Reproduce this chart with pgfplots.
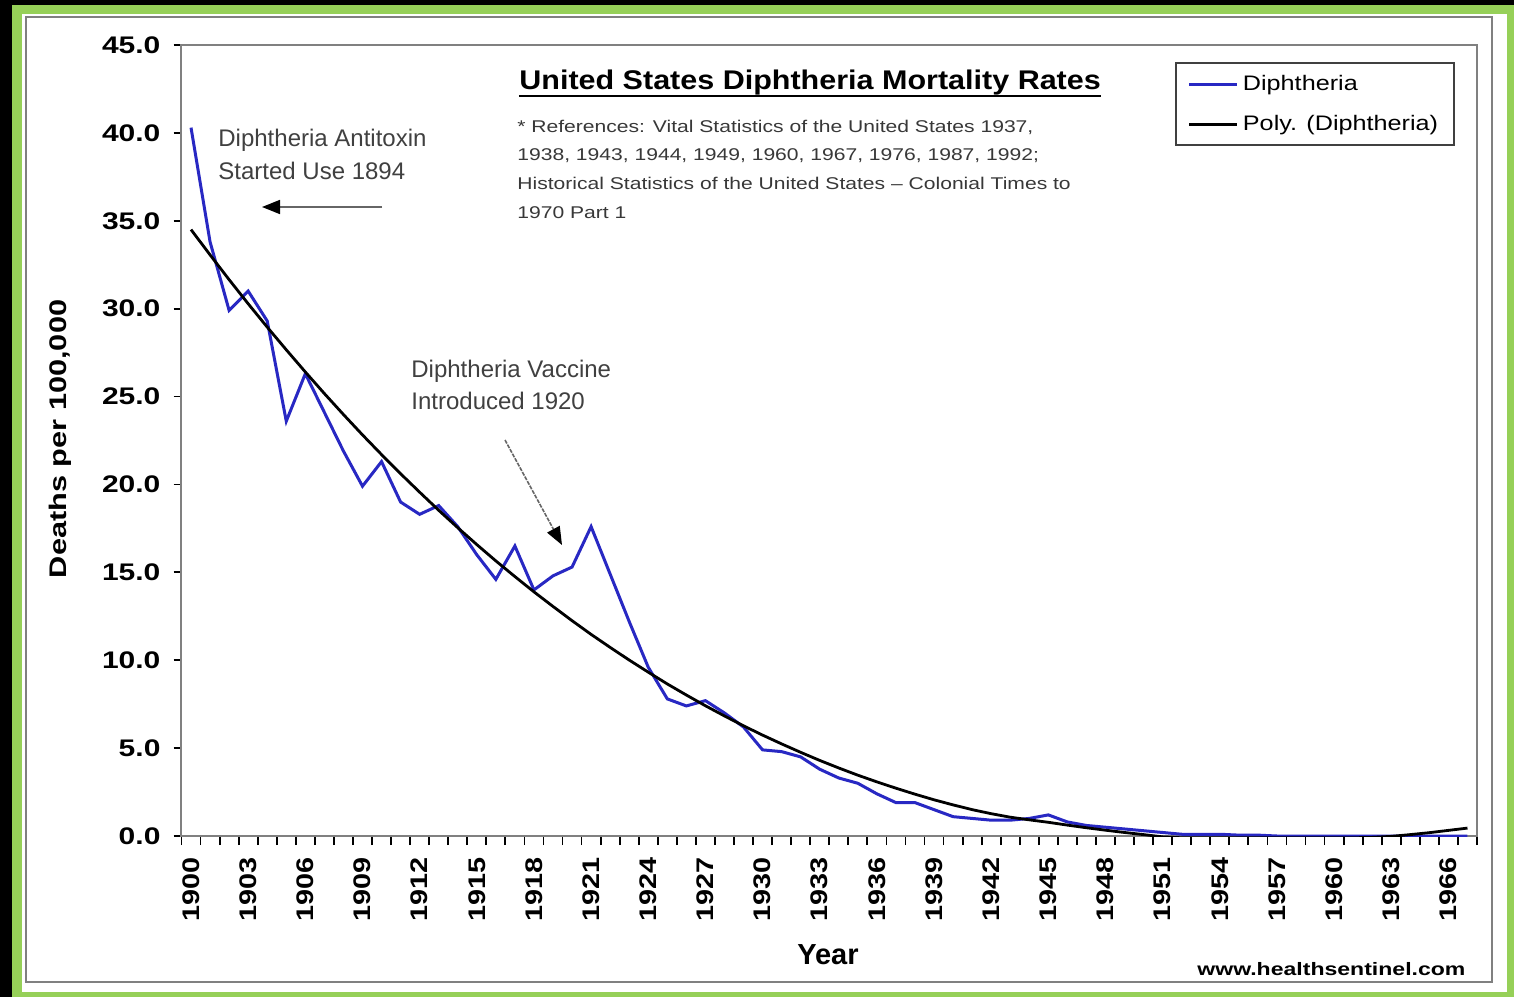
\documentclass[border=0pt]{standalone}
\usepackage{fontspec}
\setmainfont{Liberation Sans}
\usepackage{graphicx}
\usepackage{pgfplots}
\pgfplotsset{compat=1.18}
\usetikzlibrary{arrows.meta}
\definecolor{frameg}{RGB}{150,208,88}
\definecolor{dblue}{RGB}{40,40,195}
\definecolor{axgray}{RGB}{128,128,128}
\newcommand{\sx}[2]{\scalebox{#1}[1]{#2}}
\begin{document}
\begin{tikzpicture}
\begin{scope}[x=1pt,y=1pt,shift={(-90.75pt,-80.5pt)}]
\fill[black] (0,0) rectangle (757,498.5);
\fill[frameg] (6,0) rectangle (757,496);
\fill[white] (11,2.5) rectangle (753.5,491.5);
\draw[axgray, line width=0.8pt] (13,7.5) rectangle (746,490);
\end{scope}
\begin{axis}[
  anchor=south west,
  width=647.75pt, height=395.5pt, scale only axis,
  xmin=1899.5, xmax=1967.5, ymin=0, ymax=45,
  xtick={1900,1903,...,1966},
  minor xtick={1899.5,1900.5,...,1967.5},
  ytick={0,5,...,45},
  tick align=outside,
  xtick pos=bottom, ytick pos=left,
  major tick length=4pt, minor tick length=4.5pt,
  major x tick style={draw=none},
  minor x tick style={black, line width=0.9pt},
  y tick style={black, line width=0.9pt},
  axis line style={axgray, line width=1pt},
  /pgf/number format/assume math mode=true,
  xticklabel={\sx{1.2}{\pgfmathprintnumber[1000 sep={}]{\tick}}},
  yticklabel={\sx{1.25}{\pgfmathprintnumber[fixed,fixed zerofill,precision=1]{\tick}}},
  x tick label style={rotate=90, anchor=east, xshift=-3pt, font=\bfseries\fontsize{12}{14}\selectfont},
  y tick label style={xshift=-3pt, font=\bfseries\fontsize{12}{14}\selectfont},
  xlabel={Year},
  xlabel style={at={(axis description cs:0.499,-0.1504)}, anchor=center, font=\bfseries\fontsize{14.5}{16}\selectfont},
  ylabel={\sx{1.28}{Deaths per 100,000}},
  ylabel style={at={(axis description cs:-0.0938,0.502)}, anchor=center, font=\bfseries\fontsize{12}{14}\selectfont},
  title={\sx{1.13}{United States Diphtheria Mortality Rates}},
  title style={name=ttl, at={(axis description cs:0.2605,0.928)}, anchor=base west, inner sep=0pt, font=\bfseries\fontsize{13.5}{16}\selectfont},
  legend style={at={(0.983,0.9785)}, anchor=north east, draw=black!75, line width=0.9pt,
    font=\fontsize{10.5}{12}\selectfont, cells={anchor=west}, row sep=7pt, inner xsep=6pt, inner ysep=4pt},
  legend image code/.code={\draw[#1] (0pt,0pt) -- (24pt,0pt);},
]
\addplot[dblue, line width=1.5pt] coordinates {
(1900,40.3)(1901,33.8)(1902,29.9)(1903,31.0)(1904,29.3)(1905,23.6)(1906,26.3)(1907,24.1)(1908,21.9)(1909,19.9)
(1910,21.3)(1911,19.0)(1912,18.3)(1913,18.8)(1914,17.6)(1915,16.0)(1916,14.6)(1917,16.5)(1918,14.0)(1919,14.8)
(1920,15.3)(1921,17.6)(1922,14.9)(1923,12.2)(1924,9.6)(1925,7.8)(1926,7.4)(1927,7.7)(1928,7.0)(1929,6.2)
(1930,4.9)(1931,4.8)(1932,4.5)(1933,3.8)(1934,3.3)(1935,3.0)(1936,2.4)(1937,1.9)(1938,1.9)(1939,1.5)
(1940,1.1)(1941,1.0)(1942,0.9)(1943,0.9)(1944,1.0)(1945,1.2)(1946,0.8)(1947,0.6)(1948,0.5)(1949,0.4)
(1950,0.3)(1951,0.2)(1952,0.1)(1953,0.1)(1954,0.1)(1955,0.05)(1956,0.05)(1957,0)(1958,0)(1959,0)
(1960,0)(1961,0)(1962,0)(1963,0)(1964,0)(1965,0)(1966,0)(1967,0)
};
\addlegendentry{\sx{1.2}{Diphtheria}}
\addplot[black, line width=1.4pt] coordinates {
(1900,34.50)(1901,33.06)(1902,31.65)(1903,30.28)(1904,28.95)(1905,27.66)(1906,26.40)(1907,25.17)(1908,23.98)(1909,22.82)
(1910,21.70)(1911,20.61)(1912,19.56)(1913,18.53)(1914,17.54)(1915,16.58)(1916,15.65)(1917,14.76)(1918,13.89)(1919,13.06)
(1920,12.25)(1921,11.47)(1922,10.73)(1923,10.01)(1924,9.32)(1925,8.65)(1926,8.02)(1927,7.41)(1928,6.83)(1929,6.27)
(1930,5.74)(1931,5.24)(1932,4.76)(1933,4.30)(1934,3.87)(1935,3.46)(1936,3.08)(1937,2.72)(1938,2.38)(1939,2.06)
(1940,1.77)(1941,1.50)(1942,1.27)(1943,1.07)(1944,0.92)(1945,0.78)(1946,0.62)(1947,0.47)(1948,0.33)(1949,0.2)
(1950,0.08)(1951,-0.05)(1952,-0.1)(1953,-0.1)(1954,-0.1)(1955,-0.1)(1956,-0.1)(1957,-0.1)(1958,-0.1)(1959,-0.1)
(1960,-0.1)(1961,-0.1)(1962,-0.08)(1963,-0.02)(1964,0.08)(1965,0.19)(1966,0.32)(1967,0.45)
};
\addlegendentry{\sx{1.2}{Poly. (Diphtheria)}}
\end{axis}
\draw[black, line width=1pt] ([yshift=-3.2pt]ttl.base west) -- ([yshift=-3.2pt]ttl.base east);
\begin{scope}[x=1pt,y=1pt,shift={(-90.75pt,-80.5pt)}]
\begin{scope}[every node/.style={anchor=base west, inner sep=0pt, text=black!78, font=\fontsize{8.5}{10}\selectfont}]
\node at (258.5,432) {\sx{1.24}{* References: Vital Statistics of the United States 1937,}};
\node at (258.5,418) {\sx{1.24}{1938, 1943, 1944, 1949, 1960, 1967, 1976, 1987, 1992;}};
\node at (258.5,403.5) {\sx{1.24}{Historical Statistics of the United States -- Colonial Times to}};
\node at (258.5,389) {\sx{1.24}{1970 Part 1}};
\end{scope}
\begin{scope}[every node/.style={anchor=base west, inner sep=0pt, text=black!75, font=\fontsize{12}{14}\selectfont}]
\node at (109,425) {Diphtheria Antitoxin};
\node at (109,408.5) {Started Use 1894};
\node at (205.5,309.5) {Diphtheria Vaccine};
\node at (205.5,293.5) {Introduced 1920};
\end{scope}
\draw[black!60, line width=0.8pt, -{Triangle[length=9pt,width=7pt,black]}] (191,395) -- (131,395);
\draw[black!60, line width=0.8pt, dash pattern=on 2pt off 0.6pt, -{Triangle[length=9pt,width=7pt,black]}] (252.5,278.5) -- (281,226);
\node[anchor=base west, inner sep=0pt, font=\bfseries\fontsize{9}{11}\selectfont] at (598.5,11) {\sx{1.28}{www.healthsentinel.com}};
\end{scope}
\end{tikzpicture}
\end{document}
